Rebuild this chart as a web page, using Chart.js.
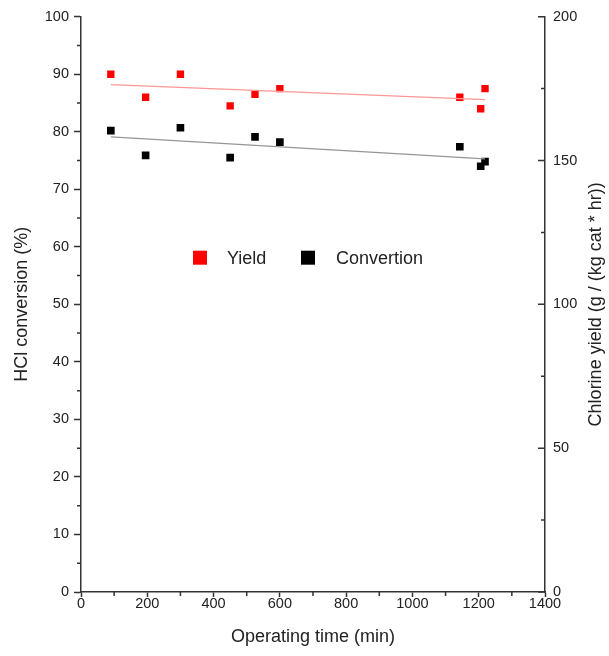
<!DOCTYPE html>
<html>
<head>
<meta charset="utf-8">
<script src="https://cdn.jsdelivr.net/npm/chart.js@4.4.0/dist/chart.umd.min.js"></script>
<style>
html, body { margin: 0; padding: 0; background: #fff; }
</style>
</head>
<body>
<canvas id="chart" width="609" height="656"></canvas>
<script>
/* =========================
   DATOS
========================= */
const timeMin = [90, 195, 300, 450, 525, 600, 1143, 1206, 1219];
const yieldVals = [180, 172, 180, 169, 173, 175, 172, 168, 175];      // g / (kg cat * hr)
const conversion = [80.2, 75.9, 80.7, 75.5, 79.1, 78.2, 77.4, 74.0, 74.8]; // %
const fitX = [90, 1219];
const yieldFit = [176.4, 171.2];
const convFit = [79.1, 75.3];
const legendLabels = ["Yield", "Convertion"];

const FONT = "'Liberation Sans', Arial, sans-serif";
const AXIS = "#333";

Chart.defaults.font.family = FONT;
Chart.defaults.color = "#222";

const pts = (xs, ys) => xs.map((x, i) => ({ x: x, y: ys[i] }));
const plain = v => String(v);

/* =========================
   PLUGIN: ticks menores, ticks derecha, titulo derecho, leyenda
========================= */
const extras = {
    id: "extras",
    afterDraw(chart) {
        const ctx = chart.ctx;
        const { x, y, y2 } = chart.scales;
        const area = chart.chartArea;
        ctx.save();
        ctx.strokeStyle = AXIS;
        ctx.lineWidth = 1.5;
        ctx.beginPath();
        // menores eje izquierdo
        for (let v = 5; v < 100; v += 10) {
            const py = y.getPixelForValue(v);
            ctx.moveTo(area.left, py);
            ctx.lineTo(area.left - 4, py);
        }
        // menores eje x
        for (let v = 100; v < 1400; v += 200) {
            const px = x.getPixelForValue(v);
            ctx.moveTo(px, area.bottom);
            ctx.lineTo(px, area.bottom + 4);
        }
        // eje derecho, ticks hacia dentro
        for (let v = 0; v <= 200; v += 25) {
            const py = y2.getPixelForValue(v);
            const len = v % 50 === 0 ? 7 : 4;
            ctx.moveTo(area.right, py);
            ctx.lineTo(area.right - len, py);
        }
        ctx.stroke();

        // titulo derecho (de abajo hacia arriba)
        ctx.fillStyle = "#222";
        ctx.font = "18px " + FONT;
        ctx.textAlign = "center";
        ctx.textBaseline = "middle";
        ctx.translate(596, (area.top + area.bottom) / 2);
        ctx.rotate(-Math.PI / 2);
        ctx.fillText("Chlorine yield (g / (kg cat * hr))", 0, 0);
        ctx.restore();

        // leyenda
        ctx.save();
        ctx.font = "18px " + FONT;
        ctx.textBaseline = "middle";
        ctx.textAlign = "left";
        const ly = area.top + 241;
        const items = [
            { color: "#ff0000", sx: area.left + 119, tx: area.left + 146, text: legendLabels[0] },
            { color: "#000000", sx: area.left + 227, tx: area.left + 255, text: legendLabels[1] }
        ];
        items.forEach(it => {
            ctx.fillStyle = it.color;
            ctx.fillRect(it.sx - 7, ly - 7, 14, 14);
            ctx.fillStyle = "#222";
            ctx.fillText(it.text, it.tx, ly + 1);
        });
        ctx.restore();
    }
};

/* =========================
   GRAFICO
========================= */
new Chart(document.getElementById("chart"), {
    type: "scatter",
    data: {
        datasets: [
            {
                label: "Yield fit",
                data: pts(fitX, yieldFit),
                yAxisID: "y2",
                showLine: true,
                borderColor: "rgb(255,150,150)",
                borderWidth: 1.2,
                pointRadius: 0
            },
            {
                label: "Convertion fit",
                data: pts(fitX, convFit),
                yAxisID: "y",
                showLine: true,
                borderColor: "rgb(150,150,150)",
                borderWidth: 1.2,
                pointRadius: 0
            },
            {
                label: legendLabels[0],
                data: pts(timeMin, yieldVals),
                yAxisID: "y2",
                pointStyle: "rect",
                pointRadius: 5.2,
                borderWidth: 0,
                backgroundColor: "#ff0000"
            },
            {
                label: legendLabels[1],
                data: pts(timeMin, conversion),
                yAxisID: "y",
                pointStyle: "rect",
                pointRadius: 5.4,
                borderWidth: 0,
                backgroundColor: "#000000"
            }
        ]
    },
    options: {
        responsive: false,
        animation: false,
        layout: { padding: { top: 15, left: 0, right: 0, bottom: 0 } },
        plugins: {
            legend: { display: false },
            tooltip: { enabled: false }
        },
        scales: {
            x: {
                type: "linear",
                min: 0,
                max: 1400,
                ticks: { stepSize: 200, font: { size: 14.5 }, padding: -2, color: "#222", callback: plain },
                grid: { drawOnChartArea: false, tickLength: 5, tickColor: AXIS, tickWidth: 1.5 },
                border: { color: AXIS, width: 1.5 },
                title: { display: true, text: "Operating time (min)", font: { size: 18 }, padding: { top: 4, bottom: 8 }, color: "#222" },
                afterFit: s => { s.height = 64; }
            },
            y: {
                position: "left",
                min: 0,
                max: 100,
                ticks: { stepSize: 10, font: { size: 14.5 }, padding: 5, color: "#222", callback: plain },
                grid: { drawOnChartArea: false, tickLength: 7, tickColor: AXIS, tickWidth: 1.5 },
                border: { color: AXIS, width: 1.5 },
                title: { display: true, text: "HCl conversion (%)", font: { size: 18 }, padding: { top: 11, bottom: 4 }, color: "#222" },
                afterFit: s => { s.width = 81; }
            },
            y2: {
                position: "right",
                min: 0,
                max: 200,
                ticks: { stepSize: 50, font: { size: 14.5 }, padding: 8, color: "#222", callback: plain },
                grid: { drawOnChartArea: false, drawTicks: false },
                border: { color: AXIS, width: 1.5 },
                afterFit: s => { s.width = 64; }
            }
        }
    },
    plugins: [extras]
});
</script>
</body>
</html>
